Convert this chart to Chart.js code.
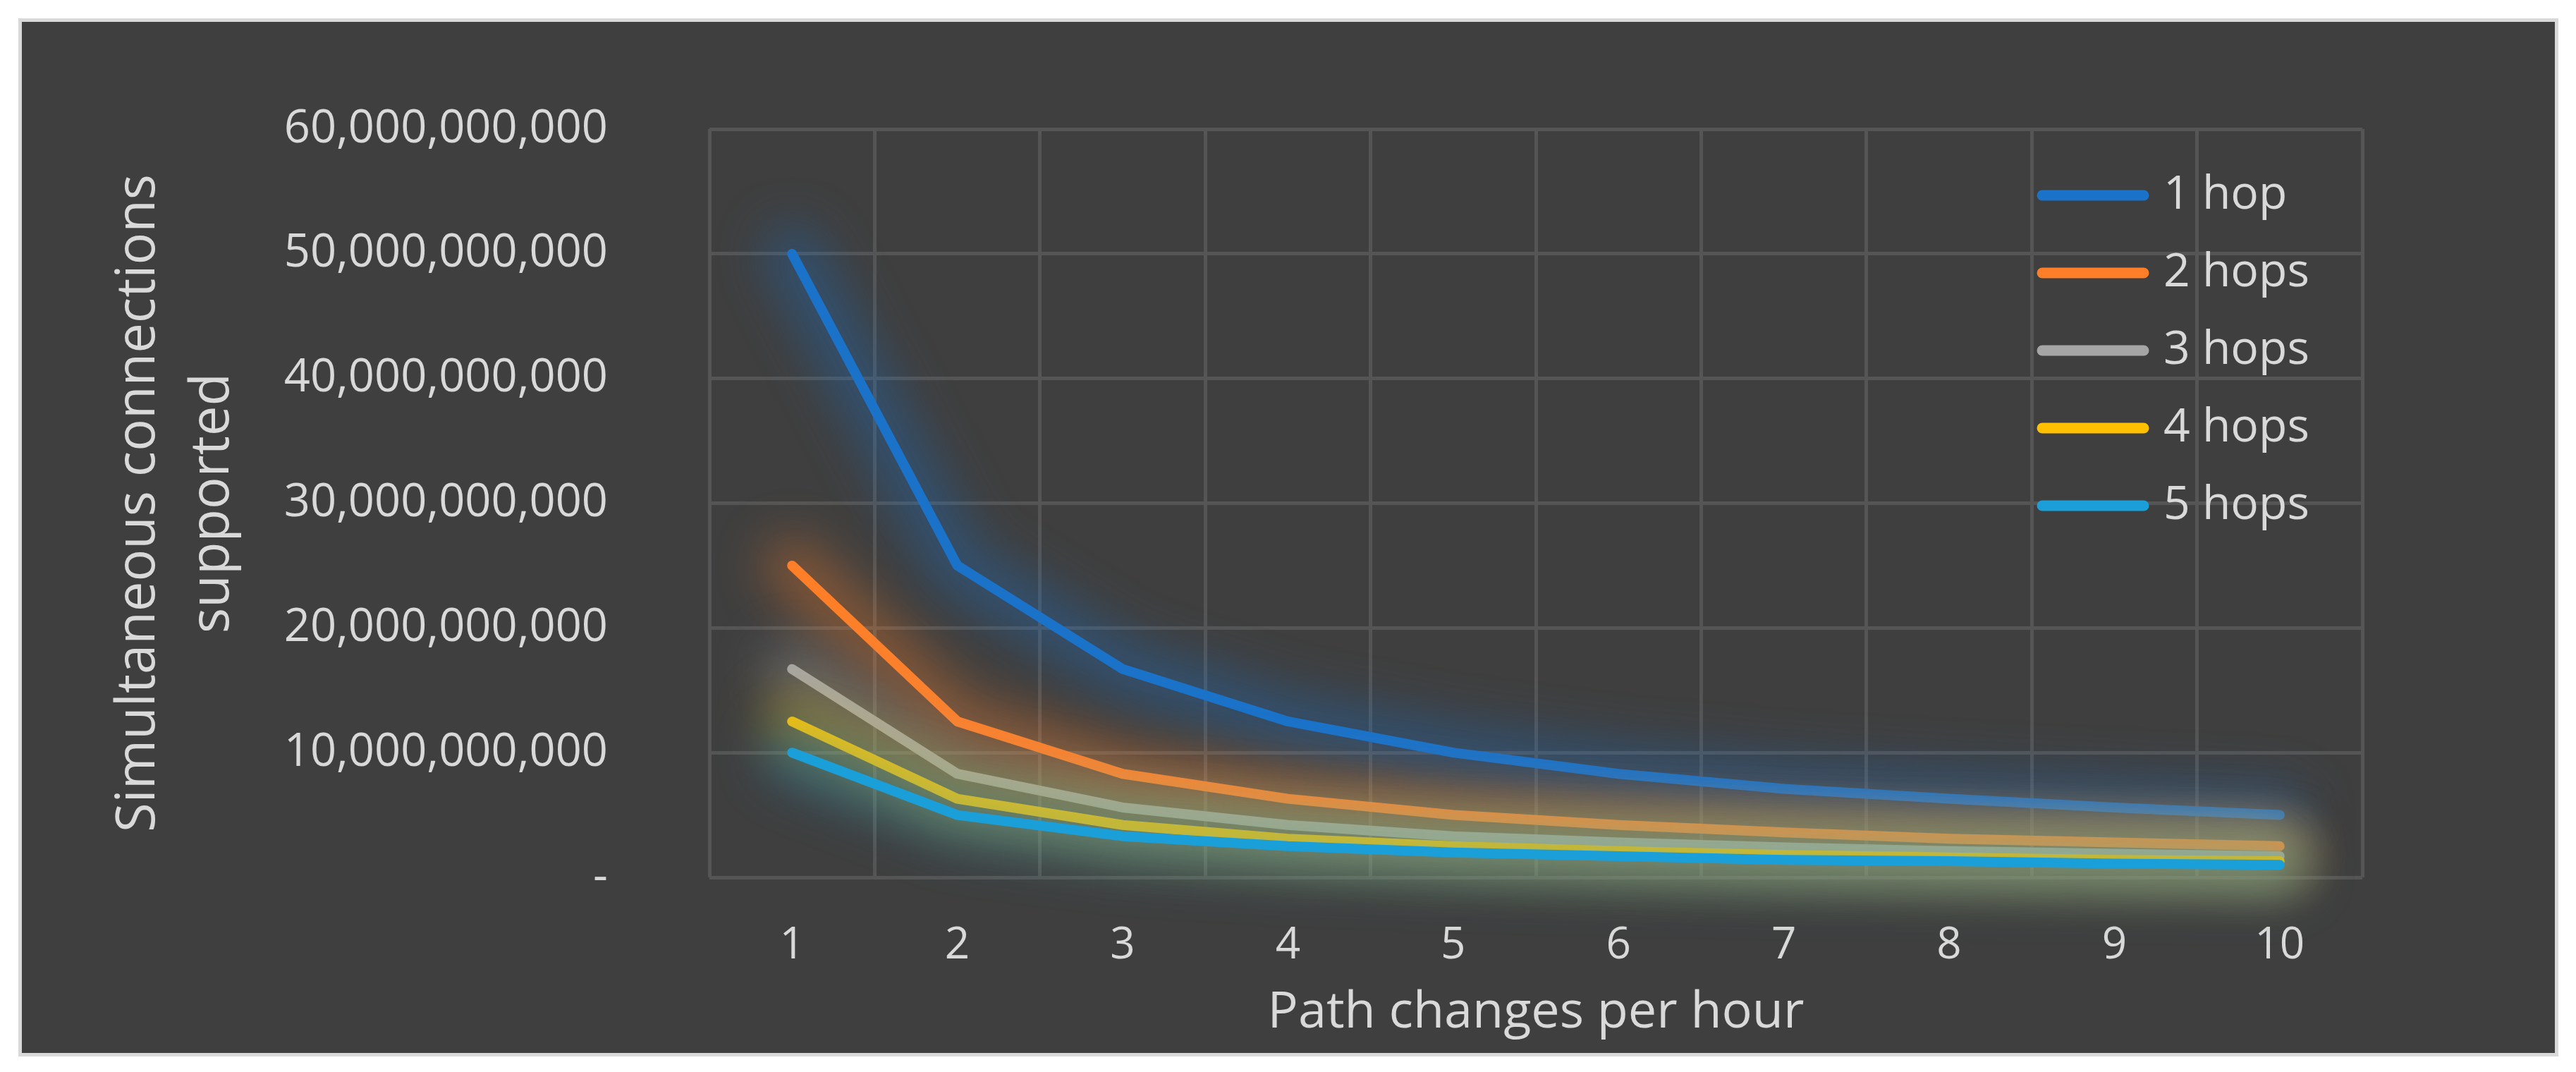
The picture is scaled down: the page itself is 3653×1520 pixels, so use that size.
<!DOCTYPE html>
<html>
<head>
<meta charset="utf-8">
<script src="https://cdn.jsdelivr.net/npm/chart.js@4/dist/chart.umd.min.js"></script>
<style>
  html, body { margin: 0; padding: 0; background: #ffffff; }
  #card {
    position: absolute; left: 26px; top: 26px; width: 3592px; height: 1462px;
    background: #3f3f3f; border: 5px solid #d9d9d9;
  }
  #wrap { position: absolute; left: 0; top: 0; width: 3653px; height: 1520px; }
</style>
</head>
<body>
<div id="card"></div>
<div id="wrap"><canvas id="hopsChart" width="3653" height="1520"></canvas></div>

<script>
    // x categories
    const pathChanges = ['1', '2', '3', '4', '5', '6', '7', '8', '9', '10'];

    // simultaneous connections
    const oneHop   = [50.0e9, 25.0e9, 16.7e9, 12.5e9, 10.0e9, 8.3e9, 7.1e9, 6.3e9, 5.6e9, 5.0e9];
    const twoHops  = [25.0e9, 12.5e9, 8.3e9, 6.3e9, 5.0e9, 4.2e9, 3.6e9, 3.1e9, 2.8e9, 2.5e9];
    const threeHops = [16.7e9, 8.3e9, 5.6e9, 4.2e9, 3.3e9, 2.8e9, 2.4e9, 2.1e9, 1.9e9, 1.7e9];
    const fourHops = [12.5e9, 6.3e9, 4.2e9, 3.1e9, 2.5e9, 2.1e9, 1.8e9, 1.6e9, 1.4e9, 1.3e9];
    const fiveHops = [10.0e9, 5.0e9, 3.3e9, 2.5e9, 2.0e9, 1.7e9, 1.4e9, 1.3e9, 1.1e9, 1.0e9];

    const seriesNames = ['1 hop', '2 hops', '3 hops', '4 hops', '5 hops'];
    const seriesColors = ['#1a73c9', '#fe7f28', '#a5a5a5', '#ffc000', '#1a9fd9'];
    const allSeries = [oneHop, twoHops, threeHops, fourHops, fiveHops];

    const textColor = '#d9d9d9';
    const fontFamily = '"Open Sans", "Noto Sans", sans-serif';

    // soft wide glow behind each line (Excel "glow" effect), traced through the line's own points
    const glowPlugin = {
        id: 'glow',
        beforeDatasetDraw(chart, args) {
            const pts = args.meta.data;
            const ctx = chart.ctx;
            ctx.save();
            ctx.filter = 'blur(34px)';
            ctx.globalAlpha = 0.36;
            ctx.strokeStyle = seriesColors[args.index];
            ctx.lineWidth = 80;
            ctx.lineCap = 'round';
            ctx.lineJoin = 'round';
            ctx.beginPath();
            pts.forEach((p, k) => k === 0 ? ctx.moveTo(p.x, p.y) : ctx.lineTo(p.x, p.y));
            ctx.stroke();
            ctx.restore();
        }
    };

    // legend drawn inside the plot, top right, like the original
    const insideLegend = {
        id: 'insideLegend',
        afterDraw(chart) {
            const ctx = chart.ctx;
            const x0 = 2896, x1 = 3040, y0 = 277, step = 110;
            ctx.save();
            ctx.lineCap = 'round';
            ctx.lineWidth = 15;
            ctx.font = '66px ' + fontFamily;
            ctx.textBaseline = 'middle';
            chart.data.datasets.forEach((ds, i) => {
                const y = y0 + i * step;
                ctx.strokeStyle = ds.borderColor;
                ctx.beginPath();
                ctx.moveTo(x0, y);
                ctx.lineTo(x1, y);
                ctx.stroke();
                ctx.fillStyle = textColor;
                ctx.fillText(ds.label, x1 + 28, y);
            });
            ctx.restore();
        }
    };

    const ctx1 = document.getElementById('hopsChart').getContext('2d');
    const hopsChart = new Chart(ctx1, {
        type: 'line',
        data: {
            labels: pathChanges,
            datasets: allSeries.map((vals, i) => ({
                label: seriesNames[i],
                data: vals,
                borderColor: seriesColors[i],
                backgroundColor: seriesColors[i],
                borderWidth: 14,
                pointRadius: 0,
                tension: 0,
                fill: false,
                borderCapStyle: 'round',
                borderJoinStyle: 'round',
                order: 5 - i // later series painted on top
            }))
        },
        plugins: [glowPlugin, insideLegend],
        options: {
            responsive: false,
            animation: false,
            layout: { padding: { left: 0, right: 303, top: 154, bottom: 0 } },
            plugins: {
                legend: { display: false },
                tooltip: { enabled: false }
            },
            scales: {
                x: {
                    offset: true,
                    grid: { offset: true, color: '#555555', lineWidth: 5, drawTicks: false },
                    border: { display: false },
                    ticks: { color: textColor, padding: 60, font: { family: fontFamily, size: 62 } },
                    title: {
                        display: true,
                        text: 'Path changes per hour',
                        color: textColor,
                        font: { family: fontFamily, size: 72 },
                        padding: { top: 0, bottom: 40 }
                    },
                    afterFit(scale) { scale.height = 1520 - 1244; }
                },
                y: {
                    min: 0,
                    max: 60e9,
                    grid: { color: '#555555', lineWidth: 5, drawTicks: false },
                    border: { display: false },
                    ticks: {
                        stepSize: 10e9,
                        color: textColor,
                        padding: 144,
                        font: { family: fontFamily, size: 65 },
                        callback: v => v === 0 ? '-' : v.toLocaleString('en-US')
                    },
                    title: {
                        display: true,
                        text: ['Simultaneous connections', 'supported'],
                        color: textColor,
                        font: { family: fontFamily, size: 76, lineHeight: 1.38 },
                        padding: { top: 145, bottom: 0 }
                    },
                    afterFit(scale) { scale.width = 1006; }
                }
            }
        }
    });
</script>
</body>
</html>
